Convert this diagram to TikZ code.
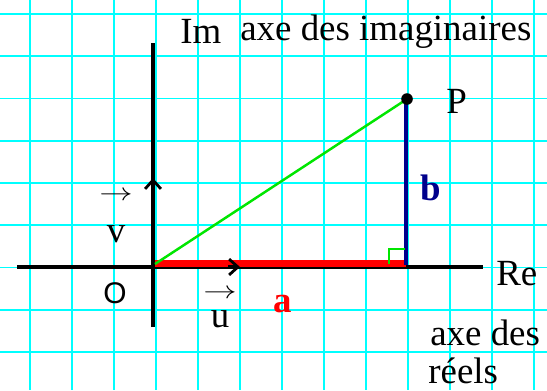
\documentclass[tikz,border=0pt]{standalone}
\usepackage{fontspec}
\usepackage{graphicx}
\setmainfont{Liberation Serif}
\newfontfamily\zerofont{Liberation Sans}
\usepackage{tikz}
\usetikzlibrary{arrows.meta, positioning, calc}

\definecolor{gridcyan}{RGB}{0,255,255}
\definecolor{sidegreen}{RGB}{0,230,0}
\definecolor{sidenavy}{RGB}{0,0,140}
\definecolor{sidered}{RGB}{255,0,0}

\newcommand{\vecmark}{\scalebox{1.9}[1.4]{$\rightarrow$}}

\begin{document}
\begin{tikzpicture}[
    x=0.02cm, y=-0.02cm,
    gridline/.style={gridcyan, line width=1.1pt},
    axis/.style={black, line width=2.3pt},
    unitvec/.style={axis, -{Straight Barb[length=5pt, width=9pt, line width=1.6pt]}},
    lbl/.style={inner sep=0pt, anchor=base west, font=\fontsize{21}{24}\selectfont},
    boldlbl/.style={lbl, font=\fontsize{21}{24}\selectfont\bfseries},
    veclbl/.style={inner sep=0pt, anchor=south, align=center, font=\fontsize{21}{24}\selectfont}
]

\useasboundingbox (0,0) rectangle (547,390);
\fill[white] (0,0) rectangle (547,390);

% Grid
\foreach \gx in {0,...,12}
    \draw[gridline] ({30+42*\gx},0) -- ({30+42*\gx},390);
\foreach \gy in {0,...,8}
    \draw[gridline] (0,{14+42.25*\gy}) -- (547,{14+42.25*\gy});

% Axes
\coordinate (O) at (153,267);
\coordinate (xleft) at (17,267);
\coordinate (xright) at (483,267);
\coordinate (ytop) at (153,43);
\coordinate (ybottom) at (153,327);
\coordinate (V) at (153,178);
\coordinate (U) at (240,267);
\coordinate (Ubase) at (228,267);
\coordinate (H) at (406,267);

\draw[axis] (xleft) -- (xright);
\draw[axis] (ybottom) -- (ytop);
\draw[unitvec] (O) -- (V);

% Triangle
\draw[sidered, line width=4pt] ($(O)+(2,-3.5)$) -- ($(H)+(0,-3.5)$);
\draw[unitvec] (Ubase) -- (U);
\draw[sidegreen, line width=1.4pt] ($(O)+(2,-3)$) -- (407,99);
\draw[sidenavy, line width=2.3pt] (406,99) -- ($(H)+(0,-2)$);
\draw[sidegreen, line width=1.4pt] ($(H)+(-17,-3)$) |- ($(H)+(-1,-18)$);
\node (P) at (407,99) [circle, fill=black, inner sep=0pt, minimum size=6.6pt] {};

% Labels
\node (Im) [lbl] at (180,43) {Im};
\node (imag) [lbl] at (240,40) {axe des imaginaires};
\node (Plbl) [lbl] at (446,113) {P};
\node (blbl) [boldlbl, sidenavy] at (420,200) {b};
\node (albl) [boldlbl, sidered] at (273,312) {a};
\node (Re) [lbl] at (496,285) {Re};
\node (reel1) [lbl] at (430,345) {axe des};
\node (reel2) [lbl] at (428,383) {réels};
\node (Olbl) [inner sep=0pt, anchor=base, font=\zerofont\fontsize{17}{18}\selectfont] at (115,303) {O};
\node (vlbl) [veclbl] at (116,243) {{\fontsize{10}{12}\selectfont\vecmark}\\v};
\node (ulbl) [veclbl] at (220,328) {{\fontsize{10}{12}\selectfont\vecmark}\\[-7.5pt]u};

\end{tikzpicture}
\end{document}
